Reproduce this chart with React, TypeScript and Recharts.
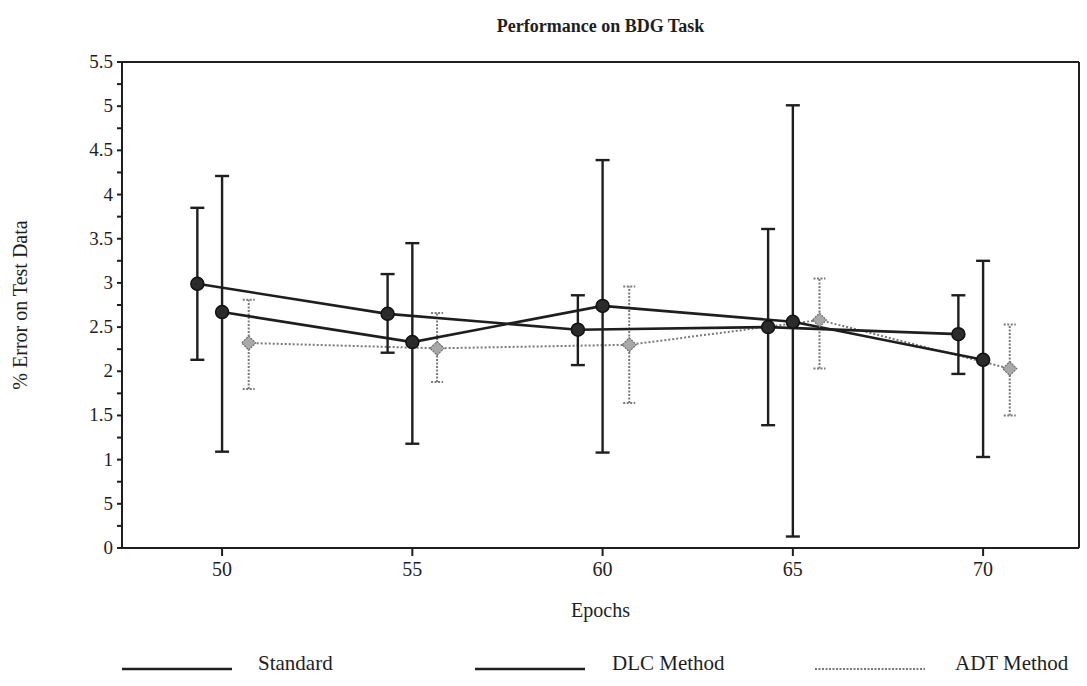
import React from "react";
import { LineChart, Line, XAxis, YAxis, ErrorBar, ReferenceLine } from "recharts";

const SERIF = "'Liberation Serif', 'Times New Roman', serif";
const INK = "#1e1e1e";
const GREY = "#7a7a7a";

// epochs are offset a little per series in the original so the bars don't overlap
const stdEpochs = [49.35, 54.35, 59.35, 64.35, 69.35];
const stdValues = [2.99, 2.65, 2.47, 2.5, 2.42];
const stdLow = [2.13, 2.21, 2.07, 1.39, 1.97];
const stdHigh = [3.85, 3.1, 2.86, 3.61, 2.86];

const dlcEpochs = [50, 55, 60, 65, 70];
const dlcValues = [2.67, 2.33, 2.74, 2.56, 2.13];
const dlcLow = [1.09, 1.18, 1.08, 0.13, 1.03];
const dlcHigh = [4.21, 3.45, 4.39, 5.01, 3.25];

const adtEpochs = [50.7, 55.65, 60.7, 65.7, 70.7];
const adtValues = [2.32, 2.26, 2.3, 2.58, 2.03];
const adtLow = [1.8, 1.88, 1.64, 2.03, 1.5];
const adtHigh = [2.81, 2.66, 2.96, 3.05, 2.53];

const epochTicks = [50, 55, 60, 65, 70];
const yTicks = [
  0, 0.25, 0.5, 0.75, 1, 1.25, 1.5, 1.75, 2, 2.25, 2.5, 2.75, 3, 3.25, 3.5, 3.75,
  4, 4.25, 4.5, 4.75, 5, 5.25, 5.5,
];
const yLabelValues = [0, 0.5, 1, 1.5, 2, 2.5, 3, 3.5, 4, 4.5, 5, 5.5];
const yLabelTexts = ["0", "5", "1", "1.5", "2", "2.5", "3", "3.5", "4", "4.5", "5", "5.5"];

const legendNames = ["Standard", "DLC Method", "ADT Method"];

function toRows(ep: number[], val: number[], lo: number[], hi: number[]) {
  return ep.map((e, i) => ({
    epoch: e,
    value: val[i],
    err: [val[i] - lo[i], hi[i] - val[i]],
  }));
}

const stdRows = toRows(stdEpochs, stdValues, stdLow, stdHigh);
const dlcRows = toRows(dlcEpochs, dlcValues, dlcLow, dlcHigh);
const adtRows = toRows(adtEpochs, adtValues, adtLow, adtHigh);

function YTick(props: any) {
  const { x, y, payload } = props;
  const idx = yLabelValues.indexOf(payload.value);
  if (idx < 0) return <g />;
  return (
    <text x={x} y={y} dy={6} textAnchor="end" fontFamily={SERIF} fontSize={19} fill={INK}>
      {yLabelTexts[idx]}
    </text>
  );
}

function RoundDot(props: any) {
  const { cx, cy, index } = props;
  return <circle key={"c" + index} cx={cx} cy={cy} r={6.5} fill="#2b2b2b" stroke="#111" strokeWidth={1.5} />;
}

function DiamondDot(props: any) {
  const { cx, cy, index } = props;
  const s = 7;
  return (
    <path
      key={"d" + index}
      d={`M${cx},${cy - s} L${cx + s},${cy} L${cx},${cy + s} L${cx - s},${cy} Z`}
      fill="#a8a8a8"
      stroke="#6e6e6e"
      strokeWidth={1.2}
      strokeDasharray="2 1"
    />
  );
}

const legendStyle = [
  { x1: 122, x2: 232, tx: 258, stroke: INK, width: 2.5, dash: undefined as string | undefined },
  { x1: 475, x2: 585, tx: 612, stroke: INK, width: 2.5, dash: undefined },
  { x1: 815, x2: 925, tx: 955, stroke: GREY, width: 1.8, dash: "2 1.5" },
];

export default function App() {
  return (
    <div style={{ position: "absolute", left: 0, top: 0, width: 1087, height: 686, background: "#fff" }}>
      <div
        style={{
          position: "absolute",
          left: 122,
          width: 957,
          top: 16,
          textAlign: "center",
          fontFamily: SERIF,
          fontWeight: 700,
          fontSize: 18,
          color: INK,
        }}
      >
        Performance on BDG Task
      </div>
      <LineChart width={1087} height={686} margin={{ top: 62, right: 0, bottom: 0, left: 0 }}>
        <XAxis
          dataKey="epoch"
          type="number"
          domain={[47.37, 72.52]}
          ticks={epochTicks}
          allowDataOverflow
          height={138}
          tickSize={8}
          tickMargin={6}
          axisLine={{ stroke: INK, strokeWidth: 2 }}
          tickLine={{ stroke: INK, strokeWidth: 2 }}
          tick={{ fontFamily: SERIF, fontSize: 20, fill: INK }}
          label={{ value: "Epochs", position: "insideTop", offset: 55, fontFamily: SERIF, fontSize: 20, fill: INK }}
        />
        <YAxis
          type="number"
          domain={[0, 5.5]}
          ticks={yTicks}
          interval={0}
          allowDataOverflow
          width={122}
          tickSize={5}
          tickMargin={4}
          axisLine={{ stroke: INK, strokeWidth: 2 }}
          tickLine={{ stroke: INK, strokeWidth: 2 }}
          tick={<YTick />}
          label={{
            content: () => (
              <text
                x={22}
                y={305}
                transform="rotate(-90, 22, 305)"
                textAnchor="middle"
                dominantBaseline="middle"
                fontFamily={SERIF}
                fontSize={20}
                fill={INK}
              >
                % Error on Test Data
              </text>
            ),
          }}
        />
        <YAxis
          yAxisId="right"
          orientation="right"
          type="number"
          domain={[0, 5.5]}
          ticks={yTicks}
          interval={0}
          width={8}
          tickSize={5}
          axisLine={{ stroke: INK, strokeWidth: 2 }}
          tickLine={{ stroke: INK, strokeWidth: 2 }}
          tickFormatter={() => ""}
        />
        <ReferenceLine y={5.5} stroke={INK} strokeWidth={2} />
        <Line
          data={adtRows}
          dataKey="value"
          stroke={GREY}
          strokeWidth={2}
          strokeDasharray="2 2"
          dot={<DiamondDot />}
          isAnimationActive={false}
        >
          <ErrorBar dataKey="err" direction="y" width={6} stroke={GREY} strokeWidth={2} strokeDasharray="2 1.5" />
        </Line>
        <Line
          data={stdRows}
          dataKey="value"
          stroke={INK}
          strokeWidth={2.6}
          dot={<RoundDot />}
          isAnimationActive={false}
        >
          <ErrorBar dataKey="err" direction="y" width={7} stroke={INK} strokeWidth={2.4} />
        </Line>
        <Line
          data={dlcRows}
          dataKey="value"
          stroke={INK}
          strokeWidth={2.6}
          dot={<RoundDot />}
          isAnimationActive={false}
        >
          <ErrorBar dataKey="err" direction="y" width={7} stroke={INK} strokeWidth={2.4} />
        </Line>
      </LineChart>
      <svg
        width={1087}
        height={686}
        style={{ position: "absolute", left: 0, top: 0, pointerEvents: "none" }}
      >
        {legendNames.map((name, i) => {
          const s = legendStyle[i];
          return (
            <g key={name}>
              <line x1={s.x1} x2={s.x2} y1={669} y2={669} stroke={s.stroke} strokeWidth={s.width} strokeDasharray={s.dash} />
              <text x={s.tx} y={670} fontFamily={SERIF} fontSize={21} fill={INK}>
                {name}
              </text>
            </g>
          );
        })}
      </svg>
    </div>
  );
}
